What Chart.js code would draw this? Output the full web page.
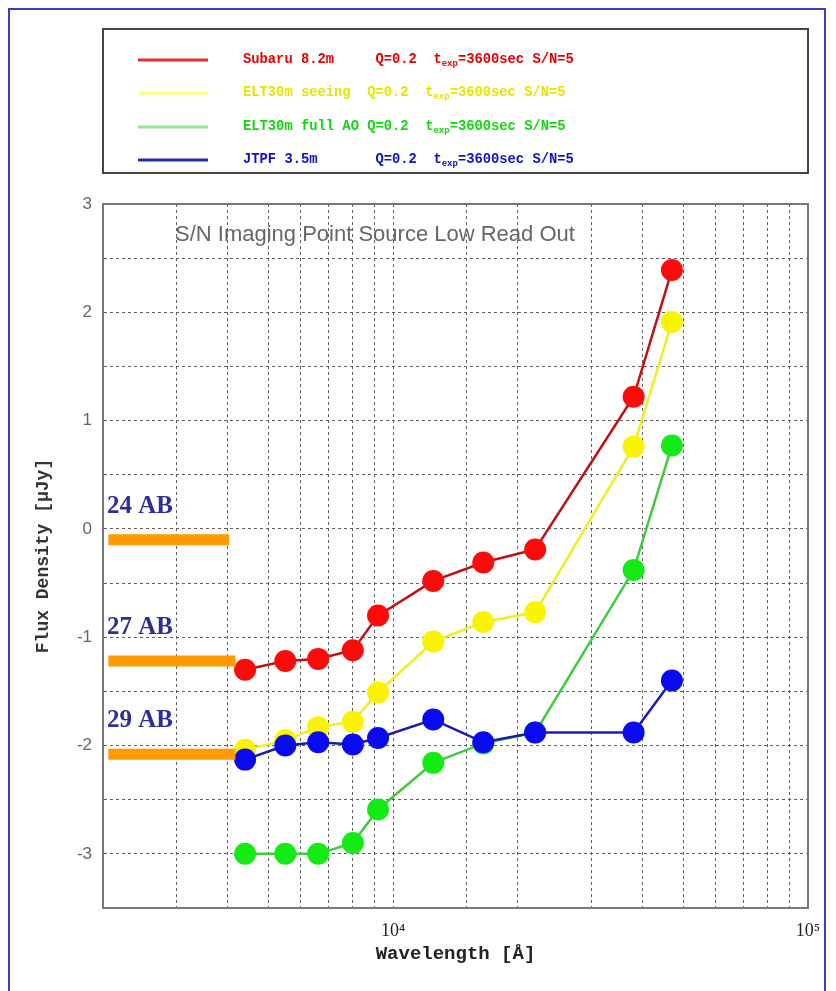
<!DOCTYPE html>
<html>
<head>
<meta charset="utf-8">
<script src="https://cdn.jsdelivr.net/npm/chart.js@4"></script>
<style>
  html, body { margin: 0; padding: 0; background: #fff; overflow: hidden; }
  #wrap { position: relative; width: 836px; height: 991px; }
  #frame { position: absolute; left: 8px; top: 8px; width: 818px; height: 990px; border: 2px solid #3a3ad0; box-sizing: border-box; pointer-events: none; }
</style>
</head>
<body>
<div id="wrap">
  <canvas id="grafico"></canvas>
  <div id="frame"></div>
</div>
<script>
// longitudes de onda (Angstrom)
const wavelengths = [4400, 5500, 6600, 8000, 9200, 12500, 16500, 22000, 38000, 47000];
// log flux density [uJy]
const subaru = [-1.30, -1.22, -1.20, -1.12, -0.80, -0.48, -0.31, -0.19, 1.22, 2.39];
const eltSeeing = [-2.04, -1.95, -1.83, -1.78, -1.51, -1.04, -0.86, -0.77, 0.76, 1.91];
const eltAO = [-3.00, -3.00, -3.00, -2.90, -2.59, -2.16, -1.98, -1.88, -0.38, 0.77];
const jtpf = [-2.13, -2.00, -1.97, -1.99, -1.93, -1.76, -1.97, -1.88, -1.88, -1.40];

const seriesNames = [
  ["Subaru 8.2m     Q=0.2  t", "=3600sec S/N=5"],
  ["ELT30m seeing  Q=0.2  t", "=3600sec S/N=5"],
  ["ELT30m full AO Q=0.2  t", "=3600sec S/N=5"],
  ["JTPF 3.5m       Q=0.2  t", "=3600sec S/N=5"]
];

// marcas AB
const abLabels = ["24 AB", "27 AB", "29 AB"];
const abLevels = [-0.10, -1.22, -2.08];
const abStart = 2060;
const abEnd = [4030, 4170, 4170];

const plotTitle = "S/N Imaging Point Source Low Read Out";

const toXY = (arr) => arr.map((v, i) => ({x: wavelengths[i], y: v}));

const serie = (label, data, line, point, order) => ({
  label: label,
  data: toXY(data),
  borderColor: line,
  backgroundColor: point,
  pointBackgroundColor: point,
  pointBorderWidth: 0,
  pointRadius: 11,
  borderWidth: 2.5,
  order: order
});

const datasets = [
  serie(seriesNames[0][0], subaru, '#c01010', '#ff0a0a', 2),
  serie(seriesNames[1][0], eltSeeing, '#eeee20', '#fbf400', 4),
  serie(seriesNames[2][0], eltAO, '#3ccc3c', '#14ea14', 3),
  serie(seriesNames[3][0], jtpf, '#1c1ca8', '#0a0af0', 1)
];

// barras naranjas AB
abLevels.forEach((lvl, i) => {
  datasets.push({
    label: abLabels[i],
    data: [{x: abStart, y: lvl}, {x: abEnd[i], y: lvl}],
    borderColor: '#ff9a00',
    borderWidth: 11,
    borderCapStyle: 'butt',
    pointRadius: 0,
    order: 0
  });
});

const legendColors = [
  ['#e83030', '#e80000'],
  ['#ffff70', '#e8e400'],
  ['#90e890', '#10d810'],
  ['#2a2aa8', '#1010c8']
];

const overlay = {
  id: 'overlay',
  afterDraw(chart) {
    const {ctx, chartArea: a, scales} = chart;
    ctx.save();
    // marco del grafico
    ctx.strokeStyle = '#777';
    ctx.lineWidth = 2;
    ctx.strokeRect(a.left, a.top, a.right - a.left, a.bottom - a.top);

    // titulo interno
    ctx.fillStyle = '#666';
    ctx.font = '22px "Liberation Sans", Arial, sans-serif';
    ctx.textBaseline = 'alphabetic';
    ctx.fillText(plotTitle, a.left + 72, a.top + 37);

    // textos AB
    ctx.fillStyle = '#2e2e9a';
    ctx.font = 'bold 25px "Liberation Serif", "Times New Roman", serif';
    abLabels.forEach((t, i) => {
      const y = scales.y.getPixelForValue(abLevels[i]);
      ctx.fillText(t, a.left + 4, y - 27);
    });

    // leyenda
    const top = 29, bottom = 173;
    ctx.strokeStyle = '#444';
    ctx.lineWidth = 2;
    ctx.strokeRect(a.left, top, a.right - a.left, bottom - top);
    const rows = [60, 93, 127, 160];
    seriesNames.forEach((parts, i) => {
      const y = rows[i];
      ctx.strokeStyle = legendColors[i][0];
      ctx.lineWidth = 3;
      ctx.beginPath();
      ctx.moveTo(a.left + 35, y);
      ctx.lineTo(a.left + 105, y);
      ctx.stroke();
      ctx.fillStyle = legendColors[i][1];
      ctx.textBaseline = 'middle';
      ctx.font = 'bold 13.8px "Liberation Mono", monospace';
      let x = a.left + 140;
      ctx.fillText(parts[0], x, y);
      x += ctx.measureText(parts[0]).width;
      ctx.font = 'bold 9px "Liberation Mono", monospace';
      ctx.fillText('exp', x, y + 4);
      x += ctx.measureText('exp').width;
      ctx.font = 'bold 13.8px "Liberation Mono", monospace';
      ctx.fillText(parts[1], x, y);
    });
    ctx.restore();
  }
};

const grid = {
  color: '#5e5e5e',
  lineWidth: 1,
  drawTicks: false
};

const grafico = new Chart(
  document.querySelector('#grafico'),
  {
    type: 'line',
    data: { datasets: datasets },
    options: {
      responsive: true,
      maintainAspectRatio: false,
      animation: false,
      layout: { padding: { top: 204, right: 28, left: 0, bottom: 0 } },
      plugins: {
        legend: { display: false },
        tooltip: { enabled: false }
      },
      scales: {
        x: {
          type: 'logarithmic',
          min: 2000,
          max: 100000,
          afterFit: (s) => { s.height = 83; },
          border: { display: true, color: '#777', width: 2, dash: [3, 3] },
          grid: grid,
          ticks: {
            autoSkip: false,
            maxRotation: 0,
            padding: 12,
            color: '#222',
            font: { family: '"Liberation Serif", serif', size: 18 },
            callback: (v) => v === 10000 ? '10\u2074' : (v === 100000 ? '10\u2075' : '')
          },
          title: {
            display: true,
            text: 'Wavelength [\u00c5]',
            color: '#222',
            font: { family: '"Liberation Mono", monospace', size: 19, weight: 'bold' },
            padding: { top: 0, bottom: 25 }
          }
        },
        y: {
          min: -3.5,
          max: 3,
          afterFit: (s) => { s.width = 103; },
          border: { display: true, color: '#777', width: 2, dash: [3, 3] },
          grid: grid,
          ticks: {
            stepSize: 0.5,
            padding: 11,
            color: '#666',
            font: { family: '"Liberation Sans", Arial, sans-serif', size: 17 },
            callback: (v) => Number.isInteger(v) ? String(v) : ''
          },
          title: {
            display: true,
            text: 'Flux Density [\u03bcJy]',
            color: '#333',
            font: { family: '"Liberation Mono", monospace', size: 18, weight: 'bold' },
            padding: { top: 33, bottom: 0 }
          }
        }
      }
    },
    plugins: [overlay]
  }
);
</script>
</body>
</html>
